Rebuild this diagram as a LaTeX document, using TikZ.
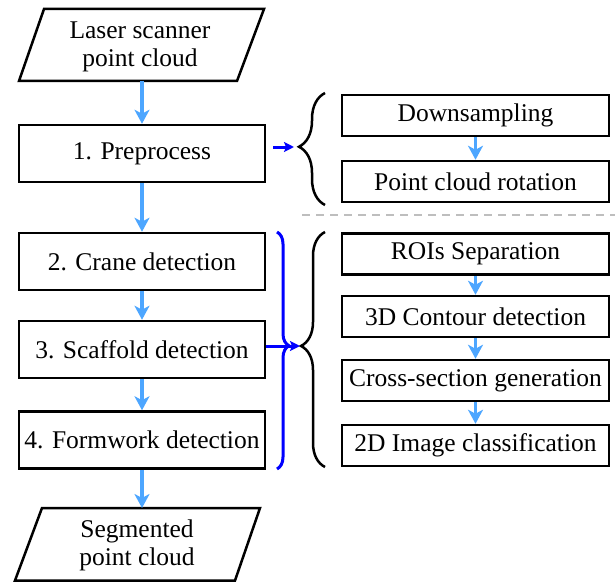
\documentclass[tikz,border=0pt]{standalone}
\usepackage{fontspec}
\setmainfont{Liberation Serif}
\usetikzlibrary{arrows.meta,decorations.pathreplacing,calc}
\definecolor{lblue}{RGB}{77,166,255}
\definecolor{dgray}{RGB}{190,190,190}
\begin{document}
\begin{tikzpicture}[x=1pt,y=-1pt,
  txt/.style={font=\fontsize{25.5}{28}\selectfont},
  box/.style={txt,draw=black,line width=2.5pt,minimum width=246pt,minimum height=57pt,inner sep=0pt},
  sbox/.style={txt,draw=black,line width=2.5pt,minimum width=267pt,minimum height=41pt,inner sep=0pt},
  io/.style={txt,inner sep=0pt,align=center},
  para/.style={line width=2.5pt,line join=miter},
  flow/.style={lblue,line width=3.5pt,-{Stealth[length=14pt,width=15pt,inset=4pt]}},
  link/.style={blue,line width=3pt,-{Stealth[length=10pt,width=10pt,inset=2pt]}},
  bbrace/.style={line width=2.5pt,decorate},
  ubrace/.style={blue,line width=3pt,decorate},
]
\useasboundingbox (0,0) rectangle (615,583);
\fill[white] (0,0) rectangle (615,583);

% input / output parallelograms
\node[io] (in) at (140,47) {Laser scanner\\point cloud};
\draw[para] ($(in.center)+(-96,-38)$) -- ($(in.center)+(124,-38)$) -- ($(in.center)+(97,34)$) -- ($(in.center)+(-121,34)$) -- cycle;
\coordinate (inb) at ($(in.center)+(0,34)$);

\node[io] (out) at (137,545.5) {Segmented\\point cloud};
\draw[para] ($(out.center)+(-95,-37.5)$) -- ($(out.center)+(123,-37.5)$) -- ($(out.center)+(98,35)$) -- ($(out.center)+(-122,35)$) -- cycle;
\coordinate (outt) at ($(out.center)+(0,-37.5)$);

% main steps
\node[box] (pre)  at (142,153.5) {1. Preprocess};
\node[box] (crane) at (142,261.5) {2. Crane detection};
\node[box] (scaf) at (142,349.5) {3. Scaffold detection};
\node[box] (form) at (142,440) {4. Formwork detection};

% sub steps
\node[sbox] (down) at (475.5,115.5) {Downsampling};
\node[sbox] (rot)  at (475.5,181.5) {Point cloud rotation};
\node[sbox] (roi)  at (475.5,254) {ROIs Separation};
\node[sbox] (c3d)  at (475.5,316.5) {3D Contour detection};
\node[sbox] (cross) at (475.5,380.5) {Cross-section generation};
\node[sbox] (img)  at (475.5,445.5) {2D Image classification};

% main flow
\draw[flow] (inb -| pre.north) -- (pre.north);
\draw[flow] (pre.south) -- (crane.north);
\draw[flow] (crane.south) -- (scaf.north);
\draw[flow] (scaf.south) -- (form.north);
\draw[flow] (form.south) -- (outt -| form.south);

% sub flows
\draw[flow] (down.south) -- (rot.north);
\draw[flow] (roi.south) -- (c3d.north);
\draw[flow] (c3d.south) -- (cross.north);
\draw[flow] (cross.south) -- (img.north);

% braces
\draw[bbrace,decoration={brace,amplitude=26pt,aspect=0.52}] (325,205) -- (325,93);
\draw[bbrace,decoration={brace,amplitude=24pt,aspect=0.515}] (325,467) -- (325,232);
\draw[ubrace,decoration={brace,amplitude=12pt,aspect=0.48}] (277,232) -- (277,469);

% blue links
\coordinate (a1) at (273,147);
\coordinate (t1) at (294,147);
\draw[link] (a1) -- (t1);
\coordinate (t2) at (300,346);
\draw[link] (scaf.east |- t2) -- (t2);

% dashed separator
\coordinate (d1) at (302,215);
\coordinate (d2) at (615,215);
\draw[dgray,line width=2pt,dash pattern=on 8pt off 6pt] (d1) -- (d2);
\end{tikzpicture}
\end{document}
